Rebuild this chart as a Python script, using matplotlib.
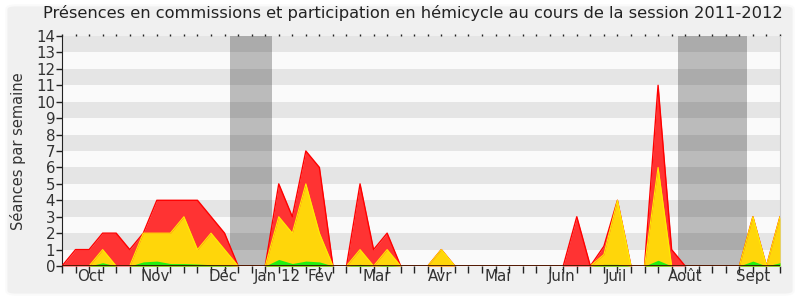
import numpy as np
import matplotlib
matplotlib.use('Agg')
import matplotlib.pyplot as plt
from matplotlib.patches import FancyBboxPatch

## Semaines de la session (une valeur par semaine)
semaines = np.arange(54)

## Présences en commissions (rouge), participation en hémicycle (jaune), interventions (vert)
rouge = [0, 1, 1, 2, 2, 1, 2, 4, 4, 4, 4, 3, 2, 0, 0, 0, 5, 3, 7, 6,
         0, 0, 5, 1, 2, 0, 0, 0, 1, 0, 0, 0, 0, 0, 0, 0, 0, 0, 3, 0,
         1.2, 4, 0, 0, 11, 1, 0, 0, 0, 0, 0, 3, 0, 3]
jaune = [0, 0, 0, 1, 0, 0, 2, 2, 2, 3, 1, 2, 1, 0, 0, 0, 3, 2, 5, 2,
         0, 0, 1, 0, 1, 0, 0, 0, 1, 0, 0, 0, 0, 0, 0, 0, 0, 0, 0, 0,
         0.7, 4, 0, 0, 6, 0, 0, 0, 0, 0, 0, 3, 0, 3]
vert = [0, 0, 0, 0.2, 0, 0, 0.25, 0.3, 0.15, 0.15, 0.12, 0.08, 0.05, 0, 0, 0, 0.4, 0.15, 0.3, 0.25,
        0, 0, 0.1, 0, 0.05, 0, 0, 0, 0, 0, 0, 0, 0, 0, 0, 0, 0, 0, 0, 0,
        0.1, 0.1, 0, 0, 0.35, 0, 0, 0, 0, 0, 0, 0.3, 0, 0.2]

## Vacances parlementaires (en semaines)
vacances = [(12.4, 15.5), (45.5, 50.55)]

## Mois
mois = ['Oct', 'Nov', 'Déc', 'Jan 12', 'Fév', 'Mar', 'Avr', 'Mai', 'Juin', 'Juil', 'Août', 'Sept']
mois_pos = [2.1, 6.9, 11.9, 15.9, 19.1, 23.2, 27.9, 32.2, 36.9, 40.9, 46.0, 51.0]

fig = plt.figure(figsize=(8, 3), dpi=100)
fig.patch.set_facecolor('white')
fond = FancyBboxPatch((0.008, 0.018), 0.984, 0.964, boxstyle='round,pad=0,rounding_size=0.012',
                      transform=fig.transFigure, facecolor='#f0f0f0', edgecolor='#fafafa',
                      linewidth=1.5, zorder=-5)
fig.patches.append(fond)

ax = fig.add_axes([0.0775, 0.1133, 0.8975, 0.7667])
ax.set_zorder(2)
ax.set_facecolor('#fafafa')
for k in range(1, 14, 2):
    ax.axhspan(k, k + 1, color='#e5e5e5', lw=0, zorder=0)
for a, b in vacances:
    ax.axvspan(a, b, color='black', alpha=0.25, lw=0, zorder=1)

ax.fill_between(semaines, rouge, color='#ff3333', lw=0, zorder=2)
ax.plot(semaines, rouge, color='#ff0000', lw=1, zorder=3)
ax.fill_between(semaines, jaune, color='#ffd60a', lw=0, zorder=4)
ax.plot(semaines, jaune, color='#ffee00', lw=0.8, zorder=5)
ax.fill_between(semaines, vert, color='#22ee11', lw=0, zorder=6)
ax.axhline(0, color='#330000', lw=1.2, zorder=7)

ax.set_xlim(0, 53)
ax.set_ylim(0, 14)
ax.set_yticks(range(15))
ax.xaxis.remove_overlapping_locs = False
ax.set_xticks(semaines)
ax.set_xticklabels([])
ax.set_xticks(mois_pos, minor=True)
ax.set_xticklabels(mois, minor=True)
ax.tick_params(axis='x', which='major', direction='out', length=5, width=1, color='#222222')
ax.tick_params(axis='x', which='minor', length=0, labelsize=10.8, labelcolor='#333333', pad=2)
ax.tick_params(axis='y', direction='out', length=4, width=1, color='#222222', labelsize=10.8,
               labelcolor='#333333', pad=1)

## Petits points en haut
haut = ax.secondary_xaxis('top')
haut.set_xticks(semaines)
haut.set_xticklabels([])
haut.tick_params(direction='out', length=1.5, width=1, color='#222222')
haut.spines['top'].set_visible(False)

ax.spines['top'].set_visible(False)
ax.spines['right'].set_color('#cccccc')
ax.spines['left'].set_color('#222222')
ax.spines['bottom'].set_visible(False)

ax.set_ylabel('Séances par semaine', fontsize=10.5, color='#333333', labelpad=7)
fig.text(0.516, 0.958, 'Présences en commissions et participation en hémicycle au cours de la session 2011-2012',
         ha='center', va='center', fontsize=11.7, color='#222222')

fig.savefig('out.png', dpi=100, facecolor=fig.get_facecolor())
